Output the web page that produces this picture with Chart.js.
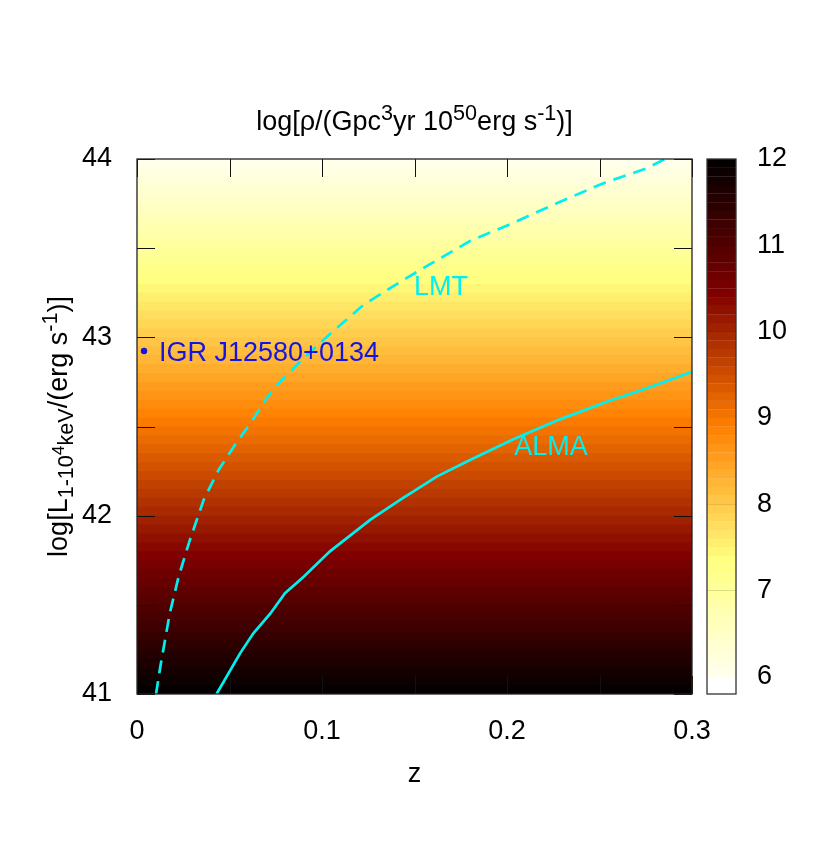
<!DOCTYPE html>
<html>
<head>
<meta charset="utf-8">
<title>log rho map</title>
<script src="https://cdn.jsdelivr.net/npm/chart.js@4.4.1/dist/chart.umd.min.js"></script>
<style>
  body { margin: 0; background: #fff; }
  #wrap { position: relative; width: 830px; height: 858px; }
  #wrap canvas { position: absolute; left: 0; top: 0; }
</style>
</head>
<body>
<div id="wrap">
  <canvas id="map" width="830" height="858"></canvas>
  <canvas id="cbar" width="830" height="858"></canvas>
</div>
<script>
// axis ranges and ticks
const zRange = [0, 0.3];
const lumRange = [41, 44];
const cbRange = [5.8, 12];
const xTicks = [0, 0.1, 0.2, 0.3];
const xTickLabels = ['0', '0.1', '0.2', '0.3'];
const xMinor = [0.05, 0.15, 0.25];
const yTicks = [41, 42, 43, 44];
const yMinor = [41.5, 42.5, 43.5];
const cbTicks = [6, 7, 8, 9, 10, 11, 12];

// heat map: lower edge of each luminosity band and its log rho value
const lumBands = [
  41.00, 41.05, 41.10, 41.15, 41.20, 41.25, 41.30, 41.35, 41.40, 41.45,
  41.50, 41.55, 41.60, 41.65, 41.70, 41.75, 41.80, 41.85, 41.90, 41.95,
  42.00, 42.05, 42.10, 42.15, 42.20, 42.25, 42.30, 42.35, 42.40, 42.45,
  42.50, 42.55, 42.60, 42.65, 42.70, 42.75, 42.80, 42.85, 42.90, 42.95,
  43.00, 43.05, 43.10, 43.15, 43.20, 43.25, 43.30, 43.35, 43.40, 43.45,
  43.50, 43.55, 43.60, 43.65, 43.70, 43.75, 43.80, 43.85, 43.90, 43.95
];
const rhoBands = [
  11.95, 11.85, 11.75, 11.65, 11.55, 11.45, 11.35, 11.25, 11.15, 11.05,
  10.95, 10.85, 10.75, 10.65, 10.55, 10.45, 10.35, 10.25, 10.15, 10.05,
  9.95, 9.85, 9.75, 9.65, 9.55, 9.45, 9.35, 9.25, 9.15, 9.05,
  8.95, 8.85, 8.75, 8.65, 8.55, 8.45, 8.35, 8.25, 8.15, 8.05,
  7.95, 7.85, 7.75, 7.65, 7.55, 7.45, 7.35, 7.25, 7.15, 7.05,
  6.95, 6.85, 6.75, 6.65, 6.55, 6.45, 6.35, 6.25, 6.15, 6.05
];

// LMT (dashed) and ALMA (solid) limits
const lmtZ = [0.0103, 0.0126, 0.0177, 0.0225, 0.028, 0.036, 0.0441, 0.0523, 0.0613, 0.0694, 0.0773,
  0.0881, 0.1007, 0.1223, 0.144, 0.1638, 0.18, 0.2016, 0.2269, 0.2521, 0.2755, 0.2854];
const lmtL = [41.0, 41.153, 41.452, 41.658, 41.845, 42.088, 42.256, 42.387, 42.518, 42.649, 42.751,
  42.863, 42.985, 43.181, 43.322, 43.443, 43.54, 43.634, 43.752, 43.864, 43.948, 44.0];
const almaZ = [0.043, 0.0557, 0.0629, 0.072, 0.080, 0.0901, 0.1043, 0.126, 0.1422, 0.162, 0.180,
  0.2034, 0.2286, 0.2539, 0.279, 0.3];
const almaL = [41.0, 41.228, 41.34, 41.45, 41.565, 41.658, 41.80, 41.976, 42.088, 42.219, 42.312,
  42.428, 42.54, 42.639, 42.727, 42.807];

// the source and text labels
const igrZ = [0.0038];
const igrL = [42.923];
const labels = [
  { text: 'LMT', z: 0.1643, L: 43.277 },
  { text: 'ALMA', z: 0.2238, L: 42.38 }
];

const FONT = '"Liberation Sans", Arial, Helvetica, sans-serif';
const FS = 27;
const LUM_STEP = 0.05;
const CYAN = '#00f0f0';

// gnuplot afmhot palette, reversed (low values white)
function afmhot(v) {
  const t = 1 - (v - cbRange[0]) / (cbRange[1] - cbRange[0]);
  const c = k => Math.round(255 * Math.min(1, Math.max(0, k)));
  return `rgb(${c(2 * t)},${c(2 * t - 0.5)},${c(2 * t - 1)})`;
}

// text with super/subscripts: [text, size factor, raise in em]
function richText(ctx, parts, x, y, rot) {
  ctx.save();
  ctx.translate(x, y);
  ctx.rotate(rot);
  ctx.textAlign = 'left';
  ctx.textBaseline = 'alphabetic';
  ctx.fillStyle = '#000';
  let total = 0;
  parts.forEach(p => {
    ctx.font = `${FS * p[1]}px ${FONT}`;
    total += ctx.measureText(p[0]).width;
  });
  let cx = -total / 2;
  parts.forEach(p => {
    ctx.font = `${FS * p[1]}px ${FONT}`;
    ctx.fillText(p[0], cx, -p[2] * FS);
    cx += ctx.measureText(p[0]).width;
  });
  ctx.restore();
}

const titleParts = [
  ['log[ρ/(Gpc', 1, 0], ['3', 0.8, 0.38], ['yr 10', 1, 0], ['50', 0.8, 0.38],
  ['erg s', 1, 0], ['-1', 0.8, 0.38], [')]', 1, 0]
];
const yLabelParts = [
  ['log[L', 1, 0], ['1-10', 0.8, -0.22], ['4', 0.64, 0.12], ['keV', 0.8, -0.22],
  ['/(erg s', 1, 0], ['-1', 0.8, 0.38], [')]', 1, 0]
];

const tickFont = { family: FONT, size: FS, lineHeight: 1.2 };

// inward ticks, frame and text for the map
const mapDecor = {
  id: 'mapDecor',
  afterDatasetsDraw(chart) {
    const { ctx, chartArea: a, scales: { x, y } } = chart;
    const TL = 18;
    ctx.save();
    ctx.strokeStyle = '#111';
    ctx.lineWidth = 1;
    ctx.beginPath();
    xTicks.concat(xMinor).forEach(v => {
      const px = Math.round(x.getPixelForValue(v)) + 0.5;
      ctx.moveTo(px, a.bottom); ctx.lineTo(px, a.bottom - TL);
      ctx.moveTo(px, a.top); ctx.lineTo(px, a.top + TL);
    });
    yTicks.concat(yMinor).forEach(v => {
      const py = Math.round(y.getPixelForValue(v)) + 0.5;
      ctx.moveTo(a.left, py); ctx.lineTo(a.left + TL, py);
      ctx.moveTo(a.right, py); ctx.lineTo(a.right - TL, py);
    });
    ctx.stroke();
    ctx.lineWidth = 1.3;
    ctx.strokeStyle = '#222';
    ctx.strokeRect(a.left, a.top, a.right - a.left, a.bottom - a.top);

    ctx.font = `${FS}px ${FONT}`;
    ctx.textAlign = 'center';
    ctx.textBaseline = 'middle';
    ctx.fillStyle = CYAN;
    labels.forEach(l => ctx.fillText(l.text, x.getPixelForValue(l.z), y.getPixelForValue(l.L)));

    ctx.fillStyle = '#1414e6';
    ctx.textAlign = 'left';
    ctx.fillText('IGR J12580+0134', x.getPixelForValue(igrZ[0]) + 15, y.getPixelForValue(igrL[0]) + 2);

    richText(ctx, titleParts, (a.left + a.right) / 2, a.top - 29, 0);
    richText(ctx, yLabelParts, 67, (a.top + a.bottom) / 2, -Math.PI / 2);
    ctx.restore();
  }
};

const bandSets = lumBands.map((lo, i) => ({
  data: [{ x: zRange[0], y: lo + LUM_STEP }, { x: zRange[1], y: lo + LUM_STEP }],
  fill: { value: lo - 0.004 },
  backgroundColor: afmhot(rhoBands[i]),
  borderWidth: 0,
  pointRadius: 0,
  order: 10
}));

new Chart(document.getElementById('map'), {
  type: 'line',
  data: {
    datasets: [
      ...bandSets,
      {
        data: lmtZ.map((z, i) => ({ x: z, y: lmtL[i] })),
        borderColor: CYAN, borderWidth: 2.7, borderDash: [13, 8],
        pointRadius: 0, fill: false, clip: 0, order: 1
      },
      {
        data: almaZ.map((z, i) => ({ x: z, y: almaL[i] })),
        borderColor: CYAN, borderWidth: 2.7,
        pointRadius: 0, fill: false, clip: 0, order: 1
      },
      {
        data: igrZ.map((z, i) => ({ x: z, y: igrL[i] })),
        showLine: false, pointRadius: 3.2, pointBackgroundColor: '#1414e6',
        pointBorderWidth: 0, fill: false, order: 0
      }
    ]
  },
  options: {
    responsive: false,
    animation: false,
    events: [],
    layout: { padding: { top: 159, right: 138, left: 0, bottom: 0 } },
    plugins: { legend: { display: false }, tooltip: { enabled: false } },
    scales: {
      x: {
        type: 'linear', min: zRange[0], max: zRange[1],
        grid: { display: false, drawTicks: false }, border: { display: false },
        afterBuildTicks: s => { s.ticks = xTicks.map(v => ({ value: v })); },
        afterFit: s => { s.height = 164; },
        ticks: {
          font: tickFont, color: '#000', padding: 21, maxRotation: 0, autoSkip: false,
          callback: (v, i) => xTickLabels[i]
        },
        title: { display: true, text: 'z', color: '#000', font: tickFont, padding: { top: 0, bottom: 67 } }
      },
      y: {
        type: 'linear', min: lumRange[0], max: lumRange[1],
        grid: { display: false, drawTicks: false }, border: { display: false },
        afterBuildTicks: s => { s.ticks = yTicks.map(v => ({ value: v })); },
        afterFit: s => { s.width = 137; },
        ticks: { font: tickFont, color: '#000', padding: 25, callback: v => String(v) }
      }
    }
  },
  plugins: [mapDecor]
});

// colour bar
const cbFrame = {
  id: 'cbFrame',
  afterDraw(chart) {
    const { ctx, chartArea: a } = chart;
    ctx.save();
    ctx.lineWidth = 1.3;
    ctx.strokeStyle = '#333';
    ctx.strokeRect(a.left, a.top, a.right - a.left, a.bottom - a.top);
    ctx.restore();
  }
};

new Chart(document.getElementById('cbar'), {
  type: 'line',
  data: {
    datasets: rhoBands.map(r => ({
      data: [{ x: 0, y: r + 0.05 }, { x: 1, y: r + 0.05 }],
      fill: { value: r - 0.053 },
      backgroundColor: afmhot(r),
      borderWidth: 0,
      pointRadius: 0
    }))
  },
  options: {
    responsive: false,
    animation: false,
    events: [],
    layout: { padding: { top: 159, right: 0, left: 707, bottom: 164 } },
    plugins: { legend: { display: false }, tooltip: { enabled: false } },
    scales: {
      x: { type: 'linear', min: 0, max: 1, display: false },
      y: {
        type: 'linear', position: 'right', min: cbRange[0], max: cbRange[1], z: 1,
        grid: { color: '#000', lineWidth: 1, drawTicks: false },
        border: { display: false },
        afterBuildTicks: s => { s.ticks = cbTicks.map(v => ({ value: v })); },
        afterFit: s => { s.width = 94; },
        ticks: { font: tickFont, color: '#000', padding: 21, callback: v => String(v) }
      }
    }
  },
  plugins: [cbFrame]
});
</script>
</body>
</html>
